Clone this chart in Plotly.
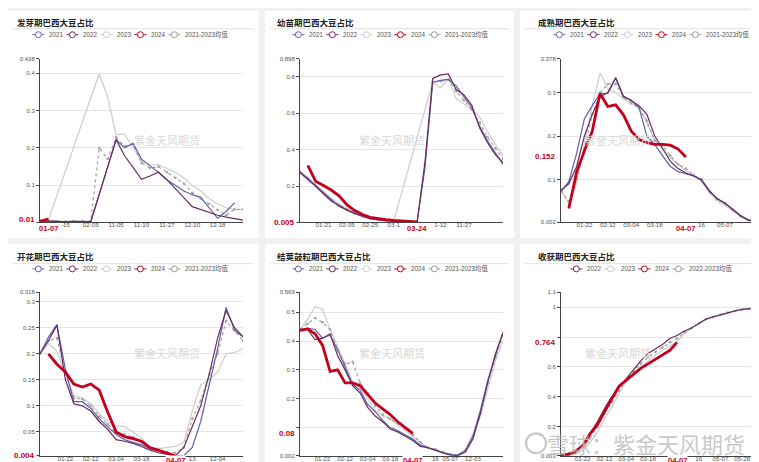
import plotly.graph_objects as go

W, H = 759, 462

# ---------------- Panel 1: 发芽期 ----------------
p1_title = "发芽期巴西大豆占比"
p1_names = ["2021", "2022", "2023", "2024", "2021-2023均值"]
p1_2021 = [0.004, 0.005, 0.004, 0.002, 0.003, 0.004, 0.003, None, None, 0.222, 0.2, 0.212, 0.17, 0.152,
           0.135, 0.115, 0.1, 0.085, 0.075, 0.068, 0.04, 0.012, 0.03, 0.053]
p1_2022 = [0.005, 0.004, 0.004, 0.003, 0.004, 0.004, 0.003, None, None, 0.222, 0.179, 0.148, 0.116, 0.125,
           0.135, 0.115, 0.09, 0.067, 0.043, 0.035, 0.027, 0.02, 0.015, 0.011, 0.007]
p1_2023 = [0.005, 0.008, None, None, None, None, None, 0.398, 0.336, 0.235, 0.237, 0.2, 0.165, 0.155,
           0.155, 0.145, 0.135, 0.12, 0.1, 0.085, 0.065, 0.05, 0.04, 0.035, 0.035]
p1_2024 = [0.004, 0.01]
p1_avg = [0.005, 0.006, 0.004, 0.003, 0.004, 0.004, 0.004, 0.2, 0.17, 0.228, 0.205, 0.21, 0.16, 0.146,
          0.15, 0.135, 0.12, 0.105, 0.08, 0.065, 0.05, 0.034, 0.02, 0.036, 0.036]
p1_tick_idx = [3, 6, 9, 12, 15, 18, 21]
p1_tick_txt = ["-15", "02-05", "11-05", "11-19", "11-27", "12-10", "12-18"]
p1_cur_date = "01-07"
p1_yticks = [0.002, 0.1, 0.2, 0.3, 0.4, 0.438]

# ---------------- Panel 2: 幼苗期 ----------------
p2_title = "幼苗期巴西大豆占比"
p2_names = ["2021", "2022", "2023", "2024", "2021-2023均值"]
p2_2021 = [0.28, 0.245, 0.205, 0.165, 0.125, 0.09, 0.072, 0.052, 0.036, 0.024, 0.017, 0.013, 0.01, 0.008,
           0.006, 0.005, 0.3, 0.77, 0.78, 0.785, 0.75, 0.69, 0.63, 0.53, 0.45, 0.385, 0.32]
p2_2022 = [0.275, 0.24, 0.2, 0.16, 0.12, 0.095, 0.07, 0.05, 0.035, 0.023, 0.016, 0.012, 0.009, 0.007,
           0.006, 0.005, 0.33, 0.79, 0.81, 0.815, 0.73, 0.7, 0.645, 0.52, 0.44, 0.375, 0.33]
p2_2023 = [0.28, 0.25, 0.21, 0.17, 0.135, 0.105, 0.08, 0.058, 0.042, 0.03, 0.02, 0.014, 0.01, None,
           None, None, None, 0.77, 0.74, 0.79, 0.68, 0.65, 0.62, 0.58, 0.5, 0.43, 0.365]
p2_2024 = [None, 0.315, 0.228, 0.205, 0.18, 0.148, 0.1, 0.068, 0.046, 0.031, 0.023, 0.018, 0.014, 0.011,
           0.008, 0.005]
p2_avg = [0.28, 0.245, 0.205, 0.165, 0.127, 0.097, 0.074, 0.053, 0.038, 0.026, 0.018, 0.013, 0.01, 0.008,
          0.006, 0.005, 0.32, 0.77, 0.775, 0.785, 0.72, 0.67, 0.62, 0.55, 0.47, 0.41, 0.35]
p2_tick_idx = [3, 6, 9, 12, 18, 21]
p2_tick_txt = ["01-21", "02-05", "02-25", "03-1", "1-12", "11-27"]
p2_cur_date = "03-24"
p2_yticks = [0.005, 0.2, 0.4, 0.6, 0.8, 0.898]

# ---------------- Panel 3: 成熟期 ----------------
p3_title = "成熟期巴西大豆占比"
p3_names = ["2021", "2022", "2023", "2024", "2021-2023均值"]
p3_2021 = [0.072, 0.095, 0.16, 0.24, 0.27, 0.298, 0.298, 0.333, 0.29, 0.283, 0.265, 0.2, 0.18, 0.155,
           0.13, 0.118, 0.113, 0.108, 0.1, 0.075, 0.055, 0.045, 0.03, 0.016, 0.006, 0.003, 0.003]
p3_2022 = [0.075, 0.09, 0.13, 0.2, 0.25, 0.29, 0.3, 0.335, 0.292, 0.28, 0.27, 0.25, 0.2, 0.172,
           0.142, 0.125, 0.115, 0.108, 0.098, 0.073, 0.056, 0.046, 0.031, 0.017, 0.007, 0.004, 0.003]
p3_2023 = [0.075, 0.045, 0.09, 0.18, 0.27, 0.345, 0.31, 0.3, 0.285, 0.275, 0.265, 0.23, 0.19, 0.17,
           0.15, 0.135, 0.12, 0.11, 0.095, 0.07, 0.05, 0.04, 0.028, 0.014, 0.005, 0.003, 0.004]
p3_2024 = [None, 0.033, 0.117, 0.166, 0.211, 0.298, 0.268, 0.272, 0.249, 0.211, 0.192, 0.185, 0.181,
           0.181, 0.179, 0.17, 0.152]
p3_avg = [0.074, 0.05, 0.1, 0.17, 0.25, 0.3, 0.32, 0.32, 0.29, 0.275, 0.265, 0.235, 0.19, 0.178,
          0.155, 0.135, 0.125, 0.11, 0.1, 0.072, 0.055, 0.045, 0.03, 0.015, 0.006, 0.004, 0.005]
p3_tick_idx = [3, 6, 9, 12, 18, 21]
p3_tick_txt = ["01-22", "02-12", "03-04", "03-18", "16", "05-07"]
p3_cur_date = "04-07"
p3_yticks = [0.002, 0.1, 0.2, 0.3, 0.378]

# ---------------- Panel 4: 开花期 ----------------
p4_title = "开花期巴西大豆占比"
p4_names = ["2021", "2022", "2023", "2024", "2021-2023均值"]
p4_2021 = [0.2, 0.232, 0.256, 0.17, 0.108, 0.108, 0.095, 0.075, 0.06, 0.045, 0.035, 0.03, 0.025, 0.018,
           0.013, 0.008, 0.005, 0.004, 0.02, 0.07, 0.14, 0.21, 0.289, 0.245, 0.232]
p4_2022 = [0.2, 0.225, 0.255, 0.15, 0.104, 0.1, 0.09, 0.07, 0.055, 0.035, 0.032, 0.028, 0.022, 0.015,
           0.01, 0.007, 0.004, 0.02, 0.06, 0.1, 0.16, 0.23, 0.283, 0.25, 0.233]
p4_2023 = [0.2, 0.22, 0.205, 0.16, 0.12, 0.115, 0.105, 0.085, 0.07, 0.062, 0.06, 0.05, 0.038, 0.02,
           0.018, 0.02, 0.022, 0.03, 0.09, 0.14, 0.15, 0.165, 0.2, 0.202, 0.21]
p4_2024 = [None, 0.2, 0.18, 0.165, 0.142, 0.136, 0.142, 0.13, 0.088, 0.05, 0.041, 0.037, 0.032, 0.02,
           0.015, 0.01, 0.004]
p4_avg = [0.2, 0.225, 0.23, 0.16, 0.115, 0.113, 0.1, 0.08, 0.065, 0.048, 0.045, 0.04, 0.03, 0.018,
          0.016, 0.012, 0.01, 0.02, 0.075, 0.11, 0.16, 0.2, 0.263, 0.245, 0.225]
p4_tick_idx = [3, 6, 9, 12, 18, 21]
p4_tick_txt = ["01-22", "02-12", "03-04", "03-18", "13", "12-04"]
p4_cur_date = "04-07"
p4_yticks = [0.004, 0.05, 0.1, 0.15, 0.2, 0.25, 0.3, 0.318]

# ---------------- Panel 5: 结荚鼓粒期 ----------------
p5_title = "结荚鼓粒期巴西大豆占比"
p5_names = ["2021", "2022", "2023", "2024", "2021-2023均值"]
p5_2021 = [0.44, 0.445, 0.44, 0.41, 0.42, 0.37, 0.31, 0.25, 0.23, 0.18, 0.155, 0.125, 0.1, 0.09,
           0.075, 0.06, 0.04, 0.03, 0.02, 0.012, 0.006, 0.004, 0.02, 0.07, 0.16, 0.265, 0.35, 0.43]
p5_2022 = [0.44, 0.44, 0.405, 0.41, 0.425, 0.35, 0.3, 0.245, 0.22, 0.17, 0.14, 0.12, 0.095, 0.085,
           0.07, 0.055, 0.035, 0.03, 0.022, 0.012, 0.004, 0.003, 0.015, 0.06, 0.15, 0.26, 0.355, 0.43]
p5_2023 = [0.44, 0.475, 0.52, 0.51, 0.44, 0.38, 0.32, 0.26, 0.24, 0.2, 0.16, 0.14, 0.13, 0.11,
           0.09, 0.07, 0.05, 0.03, 0.025, 0.015, 0.008, 0.005, 0.025, 0.075, 0.14, 0.24, 0.33, 0.4]
p5_2024 = [0.437, 0.442, 0.425, 0.385, 0.295, 0.3, 0.255, 0.255, 0.245, 0.215, 0.185, 0.165, 0.145,
           0.12, 0.1, 0.08]
p5_avg = [0.44, 0.46, 0.48, 0.465, 0.44, 0.37, 0.32, 0.328, 0.255, 0.22, 0.175, 0.145, 0.13, 0.115,
          0.095, 0.075, 0.05, 0.03, 0.025, 0.015, 0.008, 0.005, 0.022, 0.07, 0.15, 0.255, 0.345, 0.42]
p5_tick_idx = [3, 6, 9, 12, 18, 20, 23]
p5_tick_txt = ["01-22", "02-12", "03-04", "03-18", "16", "05-07", "12-03"]
p5_cur_date = "04-07"
p5_yticks = [0.002, 0.1, 0.2, 0.3, 0.4, 0.5, 0.569]

# ---------------- Panel 6: 收获期 ----------------
p6_title = "收获期巴西大豆占比"
p6_names = ["2022", "2023", "2024", "2022-2023均值"]
p6_2022 = [0.003, 0.01, 0.03, 0.08, 0.15, 0.23, 0.32, 0.4, 0.46, 0.52, 0.58, 0.64, 0.69, 0.72, 0.75,
           0.79, 0.81, 0.84, 0.86, 0.89, 0.92, 0.935, 0.95, 0.965, 0.975, 0.985, 0.99, 0.995, 1.0]
p6_2023 = [0.003, 0.005, 0.015, 0.04, 0.09, 0.16, 0.25, 0.33, 0.42, 0.5, 0.56, 0.6, 0.64, 0.68, 0.71,
           0.74, 0.77, 0.82, 0.86, 0.89, 0.92, 0.935, 0.95, 0.965, 0.975, 0.985, 0.99, 0.995, 1.0]
p6_2024 = [0.01, 0.015, 0.035, 0.07, 0.15, 0.21, 0.3, 0.39, 0.47, 0.51, 0.55, 0.59, 0.62, 0.65, 0.68,
           0.71, 0.764]
p6_avg = [0.003, 0.007, 0.022, 0.06, 0.12, 0.195, 0.285, 0.365, 0.44, 0.51, 0.57, 0.62, 0.665, 0.7,
          0.73, 0.765, 0.79, 0.83, 0.86, 0.89, 0.92, 0.935, 0.95, 0.965, 0.975, 0.985, 0.99, 0.995, 1.0]
p6_tick_idx = [3, 6, 9, 12, 19, 22, 25]
p6_tick_txt = ["01-22", "02-12", "03-04", "03-18", "16", "05-07", "05-28"]
p6_cur_date = "04-07"
p6_yticks = [0.003, 0.2, 0.4, 0.6, 0.8, 1, 1.1]

WATERMARK = "紫金天风期货"
BIG_WATERMARK = "雪球：紫金天风期货"

panels = [
    dict(title=p1_title, names=p1_names, series=[p1_2021, p1_2022, p1_2023, p1_2024, p1_avg],
         tick_idx=p1_tick_idx, tick_txt=p1_tick_txt, cur_date=p1_cur_date, yticks=p1_yticks),
    dict(title=p2_title, names=p2_names, series=[p2_2021, p2_2022, p2_2023, p2_2024, p2_avg],
         tick_idx=p2_tick_idx, tick_txt=p2_tick_txt, cur_date=p2_cur_date, yticks=p2_yticks),
    dict(title=p3_title, names=p3_names, series=[p3_2021, p3_2022, p3_2023, p3_2024, p3_avg],
         tick_idx=p3_tick_idx, tick_txt=p3_tick_txt, cur_date=p3_cur_date, yticks=p3_yticks),
    dict(title=p4_title, names=p4_names, series=[p4_2021, p4_2022, p4_2023, p4_2024, p4_avg],
         tick_idx=p4_tick_idx, tick_txt=p4_tick_txt, cur_date=p4_cur_date, yticks=p4_yticks),
    dict(title=p5_title, names=p5_names, series=[p5_2021, p5_2022, p5_2023, p5_2024, p5_avg],
         tick_idx=p5_tick_idx, tick_txt=p5_tick_txt, cur_date=p5_cur_date, yticks=p5_yticks),
    dict(title=p6_title, names=p6_names, series=[p6_2022, p6_2023, p6_2024, p6_avg],
         tick_idx=p6_tick_idx, tick_txt=p6_tick_txt, cur_date=p6_cur_date, yticks=p6_yticks),
]

# ---------------- styling / geometry (pixels) ----------------
COLS = [dict(title_x=7, px0=32, px1=235, card=(0, 251)),
        dict(title_x=267, px0=292, px1=495, card=(257, 506)),
        dict(title_x=528, px0=553, px1=756, card=(512, 759))]
ROWS = [dict(title_y=11, line_y=18, legend_y=24, py0=48.4, py1=213.8, xlab_y=220.5, card=(0, 230)),
        dict(title_y=248, line_y=256, legend_y=261.3, py0=285, py1=450.7, xlab_y=455.4, card=(236, 462))]

RED = "#c4001c"
NUM_FONT = "Liberation Sans, Arial, Noto Sans CJK SC"
CJK_FONT = "Noto Sans CJK SC, Noto Sans CJK JP, sans-serif"


def style_for(name):
    if "均值" in name:
        return dict(color="#9a9a9a", width=1.1, dash="dot"), "#a5a5a5", 1
    if name == "2024":
        return dict(color=RED, width=2.8), None, 5
    if name == "2023":
        return dict(color="#cdcdcd", width=1.2), None, 0
    if name == "2021":
        return dict(color="#5f62a8", width=1.2), None, 2
    return dict(color="#6a2c5f", width=1.2), None, 3


def px(x):
    return x / W


def py(y):
    return 1 - y / H


def text_w(s, fs):
    w = 0.0
    for ch in s:
        if ord(ch) > 0x2E80:
            w += fs
        elif ch == "-":
            w += 0.333 * fs
        elif ch == ".":
            w += 0.278 * fs
        else:
            w += 0.556 * fs
    return w


fig = go.Figure()
shapes = []
annotations = []
layout_axes = {}

for k, p in enumerate(panels):
    col = COLS[k % 3]
    row = ROWS[k // 3]
    n = k + 1
    xs = "x" if n == 1 else f"x{n}"
    ys = "y" if n == 1 else f"y{n}"
    N = max(len(s) for s in p["series"])

    # card background + title underline
    shapes.append(dict(type="rect", xref="paper", yref="paper", layer="below",
                       x0=px(col["card"][0]), x1=px(col["card"][1]),
                       y0=py(row["card"][1]), y1=py(row["card"][0]),
                       fillcolor="white", line=dict(width=0)))
    shapes.append(dict(type="line", xref="paper", yref="paper", layer="below",
                       x0=px(col["card"][0] + 5), x1=px(col["card"][1] - 5),
                       y0=py(row["line_y"]), y1=py(row["line_y"]),
                       line=dict(color="#e2e2e2", width=1)))
    annotations.append(dict(text=f"<b>{p['title']}</b>", xref="paper", yref="paper",
                            x=px(col["title_x"]), y=py(row["title_y"]), xanchor="left", yanchor="middle",
                            showarrow=False, font=dict(family=CJK_FONT, size=8.5, color="#222")))

    # manual legend
    fs = 6.3
    icon, gap_t, gap_i = 12, 2.5, 5.5
    total = sum(icon + gap_t + text_w(nm, fs) for nm in p["names"]) + gap_i * (len(p["names"]) - 1)
    cx = col["title_x"] + 114 - total / 2
    ly = row["legend_y"]
    for nm in p["names"]:
        ln, mc, _ = style_for(nm)
        c = ln["color"]
        shapes.append(dict(type="line", xref="paper", yref="paper", x0=px(cx), x1=px(cx + icon),
                           y0=py(ly), y1=py(ly), line=dict(color=c, width=1)))
        shapes.append(dict(type="circle", xref="paper", yref="paper",
                           x0=px(cx + icon / 2 - 3), x1=px(cx + icon / 2 + 3),
                           y0=py(ly + 3), y1=py(ly - 3), fillcolor="white", line=dict(color=c, width=1)))
        annotations.append(dict(text=nm, xref="paper", yref="paper", x=px(cx + icon + gap_t), y=py(ly),
                                xanchor="left", yanchor="middle", showarrow=False,
                                font=dict(family=NUM_FONT, size=fs, color="#555")))
        cx += icon + gap_t + text_w(nm, fs) + gap_i

    # current value of the 2024 series
    red = p["series"][p["names"].index("2024")]
    ci = max(i for i, v in enumerate(red) if v is not None)
    cv = red[ci]

    # axes
    yt = p["yticks"]
    ppu = (row["py1"] - row["py0"]) / (yt[-1] - yt[0])  # pixels per unit
    ytxt = ["" if abs(v - cv) * ppu < 7 else f"{v:g}" for v in yt]
    layout_axes["xaxis" if n == 1 else f"xaxis{n}"] = dict(
        domain=[px(col["px0"]), px(col["px1"])], anchor=ys, range=[0, N - 1],
        showgrid=False, zeroline=False, showline=True, linecolor="#444", linewidth=1,
        tickmode="array", tickvals=p["tick_idx"], ticktext=p["tick_txt"], ticks="",
        ticklabelstandoff=-3,
        tickfont=dict(family=NUM_FONT, size=6.2, color="#555"), fixedrange=True)
    layout_axes["yaxis" if n == 1 else f"yaxis{n}"] = dict(
        domain=[py(row["py1"]), py(row["py0"])], anchor=xs, range=[yt[0], yt[-1]],
        showgrid=True, gridcolor="#e6e6e6", gridwidth=1, zeroline=False,
        showline=True, linecolor="#444", linewidth=1, ticks="outside", ticklen=3, tickcolor="#444",
        tickmode="array", tickvals=yt, ticktext=ytxt,
        tickfont=dict(family=NUM_FONT, size=6, color="#555"), fixedrange=True)

    # traces in drawing order
    order = sorted(range(len(p["series"])), key=lambda i: style_for(p["names"][i])[2])
    for i in order:
        nm = p["names"][i]
        s = p["series"][i]
        ln, mc, _ = style_for(nm)
        fig.add_trace(go.Scatter(
            x=list(range(len(s))), y=s, name=nm, xaxis=xs, yaxis=ys,
            mode="lines+markers" if mc else "lines", connectgaps=True,
            line=ln, marker=dict(size=2.6, color=mc) if mc else None,
            showlegend=False, hoverinfo="skip"))

    # current-value markers
    annotations.append(dict(text=f"<b>{p['cur_date']}</b>", xref=xs, yref="paper", x=ci, y=py(row["xlab_y"]),
                            xanchor="center", yanchor="middle", showarrow=False, bgcolor="white",
                            borderpad=0, font=dict(family=NUM_FONT, size=7.6, color=RED)))
    annotations.append(dict(text=f"<b>{cv:g}</b>", xref="paper", yref=ys, x=px(col["px0"] - 3), y=cv,
                            xanchor="right", yanchor="middle", showarrow=False, bgcolor="white", borderpad=1,
                            font=dict(family=NUM_FONT, size=8, color=RED)))

    # panel watermark
    annotations.append(dict(text=WATERMARK, xref="paper", yref="paper",
                            x=px((col["px0"] + col["px1"]) / 2 - 10),
                            y=py((row["py0"] + row["py1"]) / 2 - 11),
                            showarrow=False, font=dict(family=CJK_FONT, size=11, color="#d8d8d8")))

# big bottom-right watermark
annotations.append(dict(text=BIG_WATERMARK, xref="paper", yref="paper", x=px(638), y=py(438),
                        xanchor="center", yanchor="middle", showarrow=False,
                        font=dict(family=CJK_FONT, size=22, color="rgba(190,190,190,0.85)")))
shapes.append(dict(type="circle", xref="paper", yref="paper", x0=px(518), x1=px(538),
                   y0=py(448), y1=py(428), line=dict(color="rgba(190,190,190,0.85)", width=2.2)))

fig.update_layout(width=W, height=H, autosize=False, margin=dict(l=0, r=0, t=0, b=0),
                  paper_bgcolor="#f1f1f1", plot_bgcolor="rgba(0,0,0,0)", showlegend=False,
                  shapes=shapes, annotations=annotations, **layout_axes)

fig.write_html("out.html")
